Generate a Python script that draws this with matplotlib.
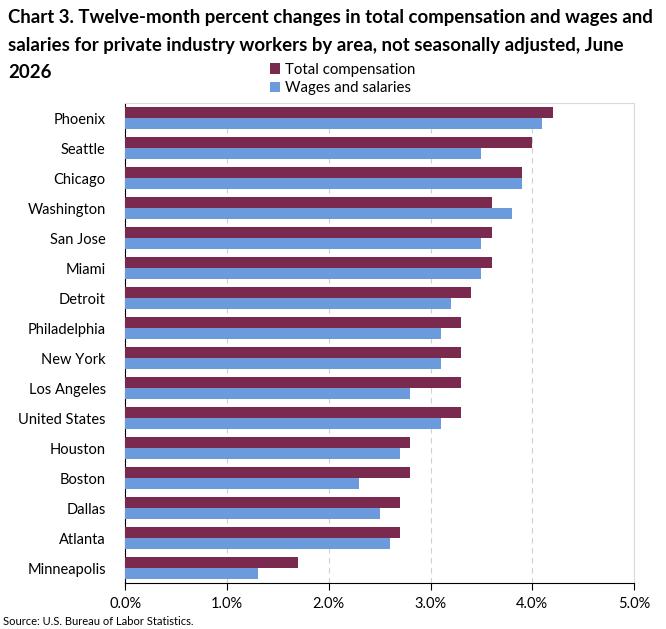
import numpy as np
import matplotlib.pyplot as plt
from matplotlib.ticker import FuncFormatter

plt.rcParams['font.family'] = ['Lato', 'DejaVu Sans']

areas = ['Phoenix', 'Seattle', 'Chicago', 'Washington', 'San Jose', 'Miami', 'Detroit',
         'Philadelphia', 'New York', 'Los Angeles', 'United States', 'Houston', 'Boston',
         'Dallas', 'Atlanta', 'Minneapolis']
total_comp = [4.2, 4.0, 3.9, 3.6, 3.6, 3.6, 3.4, 3.3, 3.3, 3.3, 3.3, 2.8, 2.8, 2.7, 2.7, 1.7]
wages = [4.1, 3.5, 3.9, 3.8, 3.5, 3.5, 3.2, 3.1, 3.1, 2.8, 3.1, 2.7, 2.3, 2.5, 2.6, 1.3]
x_ticks = [0, 1, 2, 3, 4, 5]
title_lines = ['Chart 3. Twelve-month percent changes in total compensation and wages and',
               'salaries for private industry workers by area, not seasonally adjusted, June',
               '2026']

tc_color = '#7a2a4f'
ws_color = '#6b9bdc'

fig = plt.figure(figsize=(6.66, 6.29), dpi=100)
ax = fig.add_axes([0.188, 0.073, 0.764, 0.763])

y = np.arange(len(areas))
h = 0.36
ax.barh(y - h / 2, total_comp, height=h, color=tc_color, label='Total compensation', zorder=3)
ax.barh(y + h / 2, wages, height=h, color=ws_color, label='Wages and salaries', zorder=3)

ax.set_ylim(len(areas) - 0.5, -0.5)
ax.set_yticks(y)
ax.set_yticklabels(areas, fontsize=10.5)
ax.set_xlim(0, 5)
ax.set_xticks(x_ticks)
ax.xaxis.set_major_formatter(FuncFormatter(lambda v, p: f'{v:.1f}%'))
ax.tick_params(axis='x', labelsize=10.5, length=5, direction='out', color='black', pad=5)
ax.tick_params(axis='y', length=0, pad=14)
ax.grid(axis='x', linestyle=(0, (5, 4)), color='#d0d0d0', linewidth=0.8, zorder=0)

for s in ['top', 'right']:
    ax.spines[s].set_color('#d9d9d9')
ax.spines['bottom'].set_color('black')
ax.spines['left'].set_color('black')

# title drawn line by line so the short last line stays clear of the legend
for i, line in enumerate(title_lines):
    fig.text(0.012, 1 - (18 + 27 * i) / 629, line, fontsize=13.4, fontweight='bold',
             va='center', ha='left')

fig.legend(loc='upper left', bbox_to_anchor=(0.405, 0.900), frameon=False, fontsize=10.8,
           handlelength=0.7, handleheight=0.7, handletextpad=0.3, labelspacing=0.3,
           borderaxespad=0, borderpad=0)

fig.text(0.005, 0.003, 'Source: U.S. Bureau of Labor Statistics.', fontsize=8, ha='left', va='bottom')

plt.savefig('out.png', dpi=100)
